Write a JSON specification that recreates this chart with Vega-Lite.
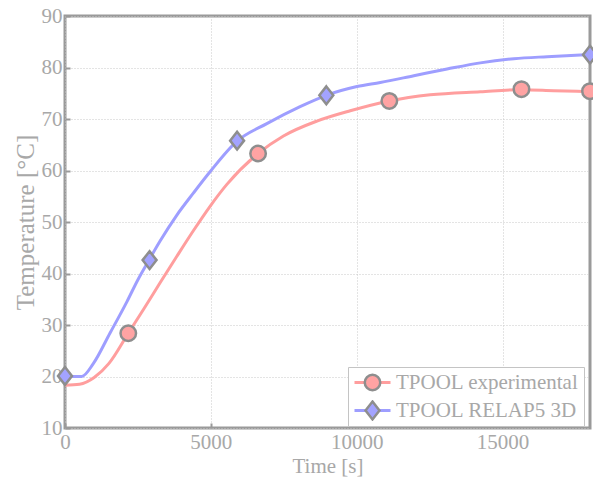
{
  "$schema": "https://vega.github.io/schema/vega-lite/v6.json",
  "width": 525,
  "height": 412,
  "autosize": {"type": "none"},
  "padding": {"left": 65, "top": 16, "right": 3, "bottom": 52},
  "background": "white",
  "datasets": {
    "lines": [
      {"series": "TPOOL experimental", "t": 0, "T": 18.3},
      {"series": "TPOOL experimental", "t": 500, "T": 18.5},
      {"series": "TPOOL experimental", "t": 1000, "T": 19.8},
      {"series": "TPOOL experimental", "t": 1500, "T": 22.5},
      {"series": "TPOOL experimental", "t": 2170, "T": 28.4},
      {"series": "TPOOL experimental", "t": 2700, "T": 33.1},
      {"series": "TPOOL experimental", "t": 3260, "T": 38.2},
      {"series": "TPOOL experimental", "t": 3830, "T": 43.3},
      {"series": "TPOOL experimental", "t": 4400, "T": 48.3},
      {"series": "TPOOL experimental", "t": 4980, "T": 53.1},
      {"series": "TPOOL experimental", "t": 5550, "T": 57.3},
      {"series": "TPOOL experimental", "t": 6620, "T": 63.3},
      {"series": "TPOOL experimental", "t": 7490, "T": 66.7},
      {"series": "TPOOL experimental", "t": 8640, "T": 69.6},
      {"series": "TPOOL experimental", "t": 9780, "T": 71.6},
      {"series": "TPOOL experimental", "t": 11120, "T": 73.5},
      {"series": "TPOOL experimental", "t": 12520, "T": 74.7},
      {"series": "TPOOL experimental", "t": 14240, "T": 75.3},
      {"series": "TPOOL experimental", "t": 15650, "T": 75.7},
      {"series": "TPOOL experimental", "t": 16760, "T": 75.5},
      {"series": "TPOOL experimental", "t": 18000, "T": 75.3},
      {"series": "TPOOL RELAP5 3D", "t": 0, "T": 20.0},
      {"series": "TPOOL RELAP5 3D", "t": 570, "T": 20.0},
      {"series": "TPOOL RELAP5 3D", "t": 970, "T": 22.5},
      {"series": "TPOOL RELAP5 3D", "t": 1540, "T": 28.4},
      {"series": "TPOOL RELAP5 3D", "t": 2120, "T": 34.5},
      {"series": "TPOOL RELAP5 3D", "t": 2500, "T": 38.8},
      {"series": "TPOOL RELAP5 3D", "t": 2880, "T": 42.6},
      {"series": "TPOOL RELAP5 3D", "t": 3260, "T": 46.3},
      {"series": "TPOOL RELAP5 3D", "t": 3830, "T": 51.3},
      {"series": "TPOOL RELAP5 3D", "t": 4400, "T": 55.6},
      {"series": "TPOOL RELAP5 3D", "t": 4980, "T": 59.8},
      {"series": "TPOOL RELAP5 3D", "t": 5900, "T": 65.7},
      {"series": "TPOOL RELAP5 3D", "t": 6920, "T": 69.1},
      {"series": "TPOOL RELAP5 3D", "t": 8060, "T": 72.4},
      {"series": "TPOOL RELAP5 3D", "t": 8960, "T": 74.6},
      {"series": "TPOOL RELAP5 3D", "t": 10010, "T": 76.3},
      {"series": "TPOOL RELAP5 3D", "t": 10810, "T": 77.1},
      {"series": "TPOOL RELAP5 3D", "t": 11960, "T": 78.4},
      {"series": "TPOOL RELAP5 3D", "t": 13100, "T": 79.7},
      {"series": "TPOOL RELAP5 3D", "t": 14240, "T": 80.9},
      {"series": "TPOOL RELAP5 3D", "t": 15390, "T": 81.7},
      {"series": "TPOOL RELAP5 3D", "t": 16530, "T": 82.1},
      {"series": "TPOOL RELAP5 3D", "t": 18000, "T": 82.5}
    ],
    "markers": [
      {"name": "exp", "t": 2170, "T": 28.4},
      {"name": "exp", "t": 6620, "T": 63.3},
      {"name": "exp", "t": 11120, "T": 73.5},
      {"name": "exp", "t": 15650, "T": 75.8},
      {"name": "exp", "t": 18000, "T": 75.4},
      {"name": "relap", "t": 0, "T": 20.1},
      {"name": "relap", "t": 2900, "T": 42.6},
      {"name": "relap", "t": 5900, "T": 65.8},
      {"name": "relap", "t": 8960, "T": 74.6},
      {"name": "relap", "t": 18000, "T": 82.5}
    ]
  },
  "layer": [
    {
      "data": {"name": "lines"},
      "mark": {"type": "line", "strokeWidth": 3, "interpolate": "monotone", "clip": true},
      "encoding": {
        "x": {
          "field": "t", "type": "quantitative",
          "scale": {"domain": [0, 18000], "nice": false},
          "axis": {"title": "Time [s]", "values": [0, 5000, 10000, 15000], "format": "d"}
        },
        "y": {
          "field": "T", "type": "quantitative",
          "scale": {"domain": [10, 90], "nice": false},
          "axis": {"title": "Temperature [°C]", "values": [10, 20, 30, 40, 50, 60, 70, 80, 90]}
        },
        "color": {
          "field": "series", "type": "nominal",
          "scale": {"domain": ["TPOOL experimental", "TPOOL RELAP5 3D"], "range": ["#ff9e9e", "#9e9eff"]},
          "legend": {
            "title": null,
            "orient": "none",
            "legendX": 283,
            "legendY": 351,
            "symbolType": "stroke",
            "symbolSize": 1296,
            "symbolStrokeWidth": 3,
            "clipHeight": 21,
            "rowPadding": 6,
            "padding": 5,
            "labelOffset": 4,
            "fillColor": "white",
            "strokeColor": "#c4c4c4",
            "labelFont": "Liberation Serif",
            "labelFontSize": 21,
            "labelColor": "#a8a8a8",
            "labelLimit": 300
          }
        }
      }
    },
    {
      "data": {"name": "markers"},
      "mark": {"type": "point", "filled": true, "stroke": "#8e8e8e", "strokeWidth": 2.5, "opacity": 1, "size": 240},
      "encoding": {
        "x": {"field": "t", "type": "quantitative"},
        "y": {"field": "T", "type": "quantitative"},
        "fill": {
          "field": "name", "type": "nominal",
          "scale": {"domain": ["exp", "relap"], "range": ["#ffa3a3", "#a3a3ff"]},
          "legend": {
            "title": null,
            "orient": "none",
            "legendX": 292,
            "legendY": 351,
            "symbolSize": 240,
            "symbolStrokeColor": "#8e8e8e",
            "symbolStrokeWidth": 2.5,
            "clipHeight": 21,
            "rowPadding": 6,
            "padding": 5,
            "labelOffset": 5,
            "labelFont": "Liberation Serif",
            "labelFontSize": 21,
            "labelExpr": "''",
            "labelLimit": 10
          }
        },
        "shape": {
          "field": "name", "type": "nominal",
          "scale": {"domain": ["exp", "relap"], "range": ["circle", "M0,-1.15L0.9,0L0,1.15L-0.9,0Z"]}
        }
      }
    }
  ],
  "config": {
    "font": "Liberation Serif",
    "view": {"stroke": "#9a9a9a", "strokeWidth": 3},
    "axis": {
      "domain": false,
      "grid": true,
      "gridColor": "#c8c8c8",
      "gridDash": [1, 2],
      "gridWidth": 1,
      "tickColor": "#9a9a9a",
      "tickWidth": 2,
      "tickSize": -5,
      "labelPadding": 8,
      "labelFlush": false,
      "labelOverlap": false,
      "labelFont": "Liberation Serif",
      "labelFontSize": 21,
      "labelColor": "#a8a8a8",
      "titleFont": "Liberation Serif",
      "titleFontSize": 21,
      "titleFontWeight": "normal",
      "titleColor": "#a8a8a8"
    },
    "axisX": {"titlePadding": 3},
    "axisY": {"titlePadding": 3, "titleFontSize": 25}
  }
}
